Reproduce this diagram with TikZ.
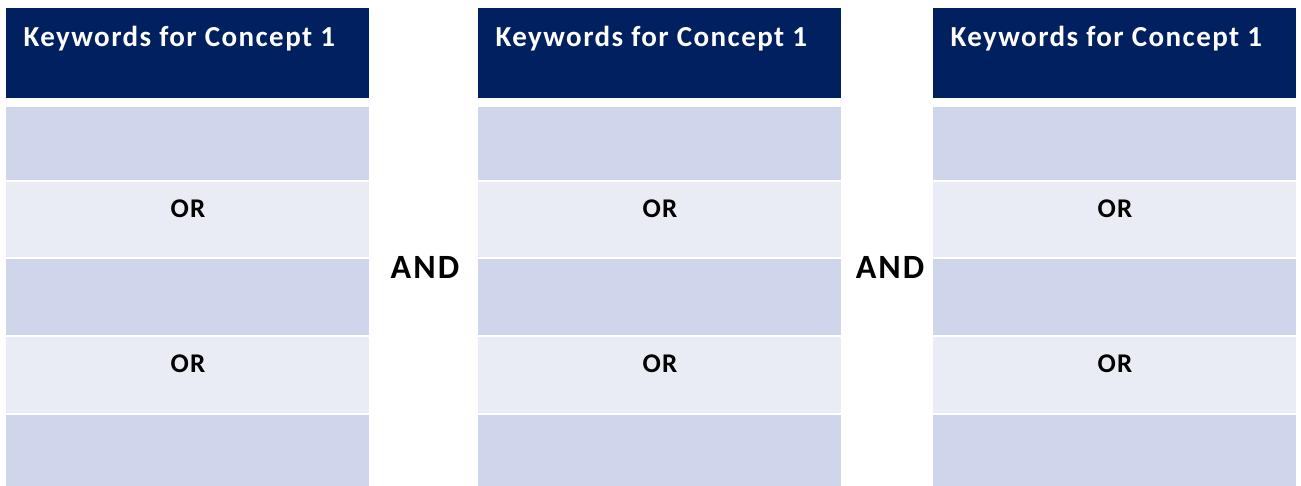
\documentclass[tikz,border=0pt]{standalone}
\usepackage{fontspec}
\setmainfont{Carlito}
\newfontfamily\headfont[LetterSpace=5]{Carlito}
\newfontfamily\orfont[LetterSpace=5]{Carlito}
\newfontfamily\andfont[LetterSpace=6]{Carlito}
\definecolor{navy}{HTML}{002060}
\definecolor{rowdark}{HTML}{CFD5EA}
\definecolor{rowlight}{HTML}{E9EBF5}
\begin{document}
\begin{tikzpicture}[x=1pt,y=-1pt,
  cell/.style={draw=none,inner sep=0pt,outer sep=0pt,anchor=north west,minimum width=362.5pt},
  headcell/.style={cell,fill=navy,minimum height=90pt},
  darkcell/.style={cell,fill=rowdark,minimum height=73pt},
  lightcell/.style={cell,fill=rowlight,minimum height=75pt},
  headtext/.style={anchor=base west,inner sep=0pt,text=white,font=\headfont\bfseries\fontsize{29}{34}\selectfont},
  ortext/.style={anchor=base,inner sep=0pt,font=\orfont\bfseries\fontsize{27}{32}\selectfont},
  andtext/.style={anchor=base,inner sep=0pt,font=\andfont\bfseries\fontsize{34}{40}\selectfont}]
\useasboundingbox[fill=white] (0,0) rectangle (1301,485);
\foreach \c/\x in {1/6,2/478,3/933}{
  \node[headcell] (h\c) at (\x,8) {};
  \node[darkcell] (r\c a) at (\x,107) {};
  \node[lightcell] (r\c b) at (\x,182) {};
  \node[darkcell,minimum height=76pt] (r\c c) at (\x,259) {};
  \node[lightcell,minimum height=76pt] (r\c d) at (\x,337) {};
  \node[darkcell,minimum height=72pt] (r\c e) at (\x,415) {};
  \node[headtext] (t\c) at (\x+17.3,46) {Keywords for Concept 1};
  \node[ortext] (o\c a) at (\x+182,217) {OR};
  \node[ortext] (o\c b) at (\x+182,372.3) {OR};
}
\node[andtext] (and1) at (425,278.5) {AND};
\node[andtext] (and2) at (890,278.5) {AND};
\end{tikzpicture}
\end{document}
